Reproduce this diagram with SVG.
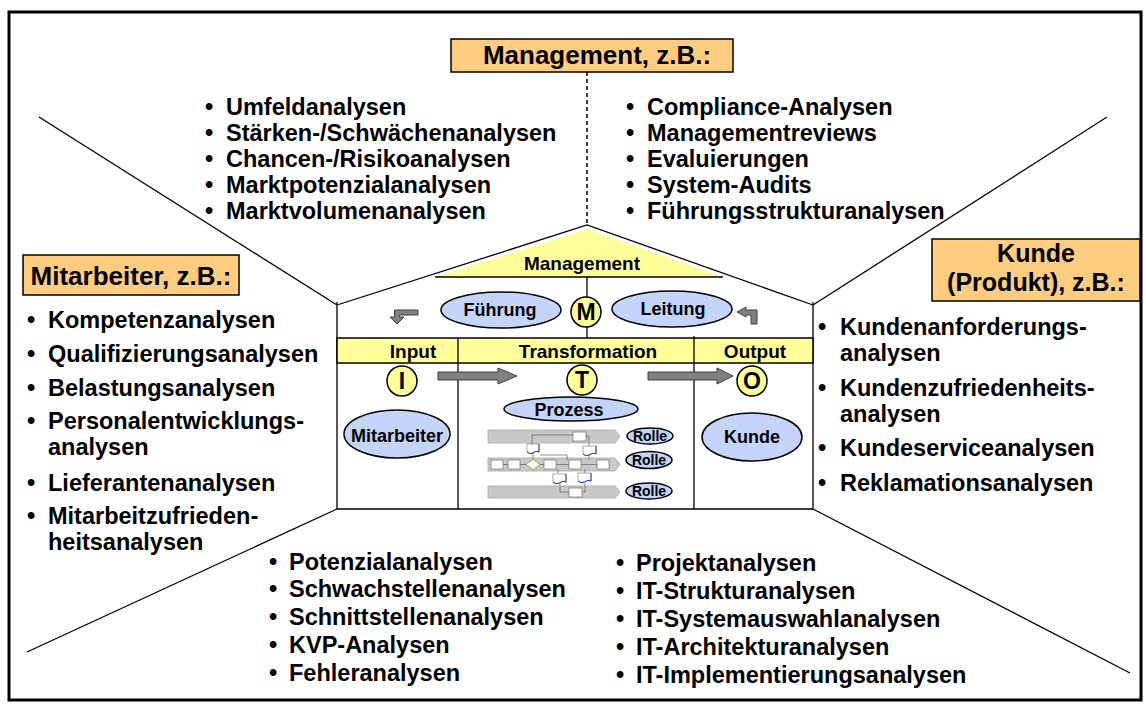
<svg xmlns="http://www.w3.org/2000/svg" width="1146" height="712" viewBox="0 0 1146 712">
<style>
text{font-family:"Liberation Sans",Arial,sans-serif;font-weight:bold;fill:#000}
.lst{font-size:23.5px}
.hdr{font-size:26px}
.hdr2{font-size:25px}
.lbl{font-size:18px}
.band{font-size:19px}
.mid{text-anchor:middle}
.ora{fill:#FFCC80;stroke:#000;stroke-width:1.5}
.yel{fill:#FFFF99;stroke:#000;stroke-width:1.5}
.blu{fill:#C4D4FA;stroke:#000;stroke-width:1.5}
.wall{fill:none;stroke:#000;stroke-width:1.3}
.ln{stroke:#000;stroke-width:1.3;fill:none}
.garr{fill:#808080;stroke:#404040;stroke-width:1}
.lane{fill:#C8C8C8;stroke:#A8A8A8;stroke-width:0.8}
.box{fill:#fff;stroke:#707070;stroke-width:0.7}
.pc{stroke:#606060;stroke-width:0.7;fill:none}
.doc{fill:#fff;stroke:#707070;stroke-width:0.6}
.docb{fill:none;stroke:#2040C0;stroke-width:1}
.rol{font-size:14px}
.cl{font-size:23px}
</style>
<rect x="9" y="12" width="1132" height="688" fill="#fff" stroke="#000" stroke-width="3"/>

<g id="connectors">
<line class="ln" x1="39" y1="117" x2="337" y2="305"/>
<line class="ln" x1="1107" y1="117" x2="813" y2="305"/>
<line class="ln" x1="27" y1="652" x2="337" y2="509"/>
<line class="ln" x1="1130" y1="673" x2="813" y2="509"/>
<line x1="587" y1="72" x2="587" y2="225" stroke="#000" stroke-width="1.5" stroke-dasharray="4,3"/>
</g>

<g id="management-box">
<rect class="ora" x="451" y="39" width="282" height="33"/>
<text class="hdr mid" x="597" y="64">Management, z.B.:</text>
</g>

<g id="management-list-left" class="lst">
<text x="205" y="115">•</text><text x="226" y="115">Umfeldanalysen</text>
<text x="205" y="141">•</text><text x="226" y="141">Stärken-/Schwächenanalysen</text>
<text x="205" y="167">•</text><text x="226" y="167">Chancen-/Risikoanalysen</text>
<text x="205" y="193">•</text><text x="226" y="193">Marktpotenzialanalysen</text>
<text x="205" y="219">•</text><text x="226" y="219">Marktvolumenanalysen</text>
</g>

<g id="management-list-right" class="lst">
<text x="626" y="115">•</text><text x="647" y="115">Compliance-Analysen</text>
<text x="626" y="141">•</text><text x="647" y="141">Managementreviews</text>
<text x="626" y="167">•</text><text x="647" y="167">Evaluierungen</text>
<text x="626" y="193">•</text><text x="647" y="193">System-Audits</text>
<text x="626" y="219">•</text><text x="647" y="219">Führungsstrukturanalysen</text>
</g>

<g id="mitarbeiter-box">
<rect class="ora" x="23" y="255" width="216" height="40"/>
<text class="hdr mid" x="131" y="285">Mitarbeiter, z.B.:</text>
</g>

<g id="mitarbeiter-list" class="lst">
<text x="27" y="328">•</text><text x="48" y="328">Kompetenzanalysen</text>
<text x="27" y="362">•</text><text x="48" y="362">Qualifizierungsanalysen</text>
<text x="27" y="396">•</text><text x="48" y="396">Belastungsanalysen</text>
<text x="27" y="429">•</text><text x="48" y="429">Personalentwicklungs-</text>
<text x="48" y="455">analysen</text>
<text x="27" y="491">•</text><text x="48" y="491">Lieferantenanalysen</text>
<text x="27" y="524">•</text><text x="48" y="524">Mitarbeitzufrieden-</text>
<text x="48" y="550">heitsanalysen</text>
</g>

<g id="kunde-box">
<rect class="ora" x="932" y="239" width="208" height="62"/>
<text class="hdr2 mid" x="1036" y="262">Kunde</text>
<text class="hdr2 mid" x="1036" y="291">(Produkt), z.B.:</text>
</g>

<g id="kunde-list" class="lst">
<text x="818" y="335">•</text><text x="840" y="335">Kundenanforderungs-</text>
<text x="840" y="361">analysen</text>
<text x="818" y="396">•</text><text x="840" y="396">Kundenzufriedenheits-</text>
<text x="840" y="422">analysen</text>
<text x="818" y="456">•</text><text x="840" y="456">Kundeserviceanalysen</text>
<text x="818" y="491">•</text><text x="840" y="491">Reklamationsanalysen</text>
</g>

<g id="prozess-list" class="lst">
<text x="269" y="570">•</text><text x="289" y="570">Potenzialanalysen</text>
<text x="269" y="597">•</text><text x="289" y="597">Schwachstellenanalysen</text>
<text x="269" y="625">•</text><text x="289" y="625">Schnittstellenanalysen</text>
<text x="269" y="653">•</text><text x="289" y="653">KVP-Analysen</text>
<text x="269" y="681">•</text><text x="289" y="681">Fehleranalysen</text>
</g>

<g id="it-list" class="lst">
<text x="616" y="571">•</text><text x="636" y="571">Projektanalysen</text>
<text x="616" y="599">•</text><text x="636" y="599">IT-Strukturanalysen</text>
<text x="616" y="627">•</text><text x="636" y="627">IT-Systemauswahlanalysen</text>
<text x="616" y="655">•</text><text x="636" y="655">IT-Architekturanalysen</text>
<text x="616" y="683">•</text><text x="636" y="683">IT-Implementierungsanalysen</text>
</g>

<g id="house">
<polygon points="435,277 587,229 723,277" fill="#FFFF99"/>
<polyline class="wall" points="337,302 337,509 813,509 813,302"/>
<polyline class="wall" points="337,305 587,225 813,305"/>
<line class="ln" x1="435" y1="277" x2="723" y2="277"/>
<text class="band mid" x="582" y="270">Management</text>
<line class="ln" x1="587" y1="277" x2="587" y2="338"/>
<rect class="yel" x="337" y="338" width="476" height="25"/>
<line class="ln" x1="458" y1="338" x2="458" y2="509"/>
<line class="ln" x1="694" y1="336" x2="694" y2="509"/>
<text class="band mid" x="413" y="358">Input</text>
<text class="band mid" x="588" y="358">Transformation</text>
<text class="band mid" x="755" y="358">Output</text>
</g>

<g id="fuehrung">
<ellipse class="blu" cx="501" cy="310" rx="60" ry="18"/>
<text class="lbl mid" x="500" y="316">Führung</text>
</g>
<g id="leitung">
<ellipse class="blu" cx="672" cy="309" rx="60" ry="18"/>
<text class="lbl mid" x="673" y="315">Leitung</text>
</g>
<g id="m-circle">
<circle class="yel" cx="586" cy="312" r="15"/>
<text class="cl mid" x="586" y="320">M</text>
</g>
<g id="bent-arrows">
<polygon class="garr" points="418,310 418,315 399.5,315 399.5,317 404,317 397,324 390,317 394.5,317 394.5,310"/>
<polygon class="garr" points="737,312 746,307 746,310 757,310 757,324 751,324 751,315 746,315 746,317"/>
</g>

<g id="i-circle">
<circle class="yel" cx="402" cy="381" r="15"/>
<text class="cl mid" x="402" y="389">I</text>
</g>
<g id="t-circle">
<circle class="yel" cx="582" cy="380" r="15"/>
<text class="cl mid" x="582" y="388">T</text>
</g>
<g id="o-circle">
<circle class="yel" cx="752" cy="381" r="15"/>
<text class="cl mid" x="752" y="389">O</text>
</g>
<g id="flow-arrows">
<polygon class="garr" points="438,372 498,372 498,368 517,376 498,384 498,380 438,380"/>
<polygon class="garr" points="648,372 717,372 717,368 733,376 717,384 717,380 648,380"/>
</g>

<g id="mitarbeiter">
<ellipse class="blu" cx="397" cy="434" rx="53" ry="24"/>
<text class="lbl mid" x="397" y="442">Mitarbeiter</text>
</g>
<g id="kunde">
<ellipse class="blu" cx="752" cy="437" rx="50" ry="24"/>
<text class="lbl mid" x="752" y="443">Kunde</text>
</g>
<g id="prozess">
<ellipse class="blu" cx="571" cy="409" rx="67" ry="12"/>
<text class="lbl mid" x="569" y="416">Prozess</text>
</g>

<g id="process-model">
<polygon class="lane" points="488,430 615,430 620,436.5 615,443 488,443"/>
<polygon class="lane" points="488,458 615,458 620,464.5 615,471 488,471"/>
<polygon class="lane" points="488,486 615,486 620,492 615,498 488,498"/>
<path class="pc" d="M532,444 V435 H573 M586,436 H589 V446 M589,455 V460 M533,453 V459 M503,464.5 H508 M520,464.5 H526 M540,464.5 H544 M556,464.5 H569 M540,455 H567 V460 M581,464.5 H597 M558,469 V473 M560,483 V492 H569 M582,492 H585 V483 M585,473 V469"/>
<rect class="box" x="573" y="432" width="13" height="9"/>
<rect class="box" x="491" y="460" width="12" height="9"/>
<rect class="box" x="508" y="460" width="12" height="9"/>
<rect class="box" x="544" y="460" width="12" height="9"/>
<rect class="box" x="569" y="460" width="12" height="9"/>
<rect class="box" x="597" y="460" width="12" height="9"/>
<polygon points="526,464.5 533,459.5 540,464.5 533,469.5" fill="#fff" stroke="#A0A000" stroke-width="0.8"/>
<rect class="box" x="569" y="488" width="13" height="9"/>
<g>
<path class="doc" d="M527,444 H539 V452 Q536,450 533,453 Q530,455 527,452 Z"/>
<path class="docb" d="M539,444 V452 Q536,450 533,453 Q530,455 527,452"/>
<path class="doc" d="M583,446 H596 V454 Q593,452 589,455 Q586,457 583,454 Z"/>
<path class="docb" d="M596,446 V454 Q593,452 589,455 Q586,457 583,454"/>
<path class="doc" d="M553,474 H566 V482 Q563,480 559.5,483 Q556,485 553,482 Z"/>
<path class="docb" d="M566,474 V482 Q563,480 559.5,483 Q556,485 553,482"/>
<path class="doc" d="M578,473 H591 V481 Q588,479 584.5,482 Q581,484 578,481 Z"/>
<path class="docb" d="M591,473 V481 Q588,479 584.5,482 Q581,484 578,481"/>
</g>
</g>

<g id="rolle-1">
<ellipse class="blu" cx="650" cy="436" rx="23" ry="8"/>
<text class="rol mid" x="650" y="441">Rolle</text>
</g>
<g id="rolle-2">
<ellipse class="blu" cx="649" cy="460" rx="23" ry="8.5"/>
<text class="rol mid" x="649" y="465">Rolle</text>
</g>
<g id="rolle-3">
<ellipse class="blu" cx="649" cy="491" rx="23" ry="8"/>
<text class="rol mid" x="649" y="496">Rolle</text>
</g>
</svg>
